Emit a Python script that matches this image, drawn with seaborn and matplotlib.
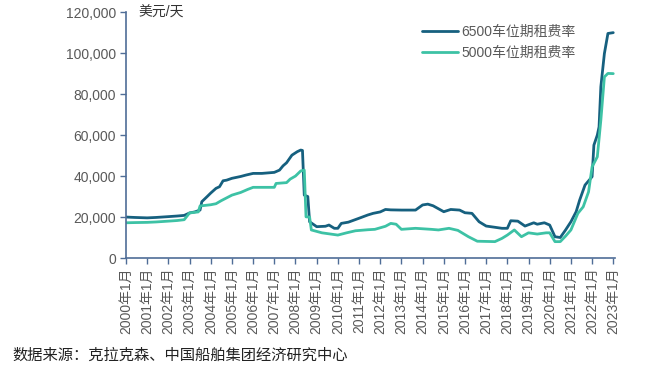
import numpy as np
import pandas as pd
import seaborn as sns
import matplotlib.pyplot as plt

# 6500车位 period charter rate (USD/day)
dates_6500 = ["2000-01", "2000-06", "2001-01", "2001-06", "2002-01", "2002-06", "2002-10",
              "2003-01", "2003-04", "2003-07", "2003-08", "2003-11", "2004-01", "2004-04",
              "2004-06", "2004-08", "2004-10", "2005-01", "2005-06", "2005-09", "2006-01",
              "2006-06", "2007-01", "2007-04", "2007-06", "2007-08", "2007-11", "2008-02",
              "2008-04", "2008-05", "2008-06", "2008-08", "2008-09", "2009-01", "2009-06",
              "2009-08", "2009-11", "2010-01", "2010-03", "2010-07", "2011-01", "2011-06",
              "2011-09", "2012-01", "2012-04", "2012-07", "2013-01", "2013-09", "2014-01",
              "2014-04", "2014-07", "2015-01", "2015-05", "2015-10", "2016-01", "2016-05",
              "2016-09", "2017-01", "2017-06", "2017-10", "2018-01", "2018-03", "2018-07",
              "2018-11", "2019-04", "2019-06", "2019-10", "2020-01", "2020-04", "2020-07",
              "2020-10", "2021-01", "2021-04", "2021-06", "2021-09", "2022-01", "2022-02",
              "2022-04", "2022-05", "2022-06", "2022-08", "2022-10", "2023-01"]
rate_6500 = [20000, 19800, 19600, 19800, 20200, 20500, 20800,
             22000, 22500, 23400, 27500, 30000, 31700, 34000,
             34800, 37700, 38000, 38900, 39800, 40500, 41300,
             41300, 41800, 42900, 45000, 46500, 50200, 51900,
             52700, 52500, 30700, 30000, 17700, 15300, 15500,
             16100, 14500, 14500, 16900, 17500, 19400, 21000,
             21800, 22500, 23700, 23500, 23400, 23400, 25900,
             26300, 25500, 22600, 23700, 23400, 22100, 21800,
             17700, 15600, 15000, 14500, 14500, 18200, 18000,
             15600, 17200, 16500, 17200, 16100, 10400, 10000,
             13700, 17700, 22600, 28300, 35600, 39700, 55100,
             60000, 64000, 83600, 99800, 109600, 110000]

# 5000车位 period charter rate (USD/day)
dates_5000 = ["2000-01", "2000-06", "2001-01", "2001-06", "2002-01", "2002-06", "2002-10",
              "2003-01", "2003-06", "2003-07", "2004-01", "2004-04", "2004-07", "2005-01",
              "2005-06", "2005-10", "2006-01", "2006-06", "2007-01", "2007-02", "2007-08",
              "2007-10", "2008-01", "2008-04", "2008-06", "2008-07", "2008-09", "2008-10",
              "2009-04", "2010-01", "2010-06", "2010-11", "2011-06", "2011-10", "2012-04",
              "2012-07", "2012-10", "2013-01", "2013-09", "2014-06", "2014-10", "2015-04",
              "2015-09", "2016-03", "2016-08", "2017-06", "2017-10", "2018-01", "2018-05",
              "2018-09", "2019-01", "2019-06", "2019-11", "2020-01", "2020-04", "2020-07",
              "2020-10", "2021-01", "2021-05", "2021-08", "2021-11", "2022-01", "2022-04",
              "2022-06", "2022-08", "2022-10", "2023-01"]
rate_5000 = [17200, 17300, 17400, 17600, 18000, 18300, 18700,
             22000, 22500, 25400, 26000, 26500, 28000, 30700,
             32000, 33500, 34500, 34500, 34500, 36400, 36800,
             38500, 40000, 42500, 42900, 20100, 20000, 13700,
             12300, 11200, 12300, 13300, 13800, 14000, 15500,
             16900, 16500, 14000, 14500, 14000, 13700, 14500,
             13500, 10400, 8200, 8000, 9600, 11200, 13700,
             10400, 12300, 11700, 12300, 12300, 8000, 8000,
             10700, 13700, 21800, 25000, 32300, 44500, 49400,
             67300, 88400, 90100, 90000]

years = list(range(2000, 2024))
tick_labels = [f"{y}年1月" for y in years]

sns.set_style("ticks")
plt.rcParams['font.family'] = ['Liberation Sans', 'Noto Sans CJK SC', 'DejaVu Sans']

df_6500 = pd.DataFrame({"date": pd.to_datetime(dates_6500), "rate": rate_6500})
df_5000 = pd.DataFrame({"date": pd.to_datetime(dates_5000), "rate": rate_5000})

fig = plt.figure(figsize=(6.7, 3.8), dpi=100)
ax = fig.add_axes([0.188, 0.321, 0.730, 0.647])

sns.lineplot(data=df_6500, x="date", y="rate", ax=ax, color="#16607f", lw=2.0, label="6500车位期租费率")
sns.lineplot(data=df_5000, x="date", y="rate", ax=ax, color="#3dc2a5", lw=2.0, label="5000车位期租费率")

spine_c = "#4f6d97"
text_c = "#595959"
ax.set_ylim(0, 120000)
ax.set_xlim(pd.Timestamp("2000-01-01"), pd.Timestamp("2023-02-01"))
ax.set_yticks(np.arange(0, 120001, 20000))
ax.set_yticklabels([f"{v:,}" for v in range(0, 120001, 20000)], color=text_c, fontsize=10)
ax.set_xticks(pd.to_datetime([f"{y}-01-01" for y in years]))
ax.set_xticklabels(tick_labels, rotation=90, color=text_c, fontsize=10)
ax.set_xlabel("")
ax.set_ylabel("")
for s in ["top", "right"]:
    ax.spines[s].set_visible(False)
for s in ["left", "bottom"]:
    ax.spines[s].set_color(spine_c)
    ax.spines[s].set_linewidth(1.2)
ax.tick_params(axis="both", color=spine_c, length=4, width=1.0, pad=3)

ax.text(0.025, 1.0, "美元/天", transform=ax.transAxes, fontsize=10, color="#333333", va="center", ha="left")

ax.legend(loc="upper left", bbox_to_anchor=(0.58, 1.0), frameon=False, fontsize=10,
          handlelength=2.6, handletextpad=0.2, labelspacing=0.5, labelcolor=text_c)

fig.text(0.018, 0.066, "数据来源：克拉克森、中国船舶集团经济研究中心", fontsize=11,
         color="#222222", family=['Noto Sans CJK SC', 'DejaVu Sans'], va="center")

fig.savefig("out.png", dpi=100)
